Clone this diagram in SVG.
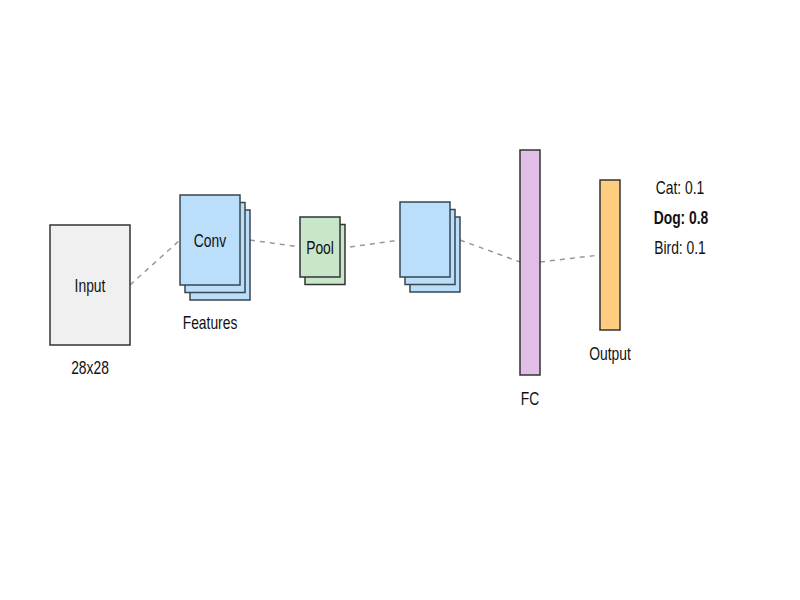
<svg xmlns="http://www.w3.org/2000/svg" width="800" height="600" viewBox="0 0 800 600">
<style>
.box{stroke:#333;stroke-width:1.5}
.in{fill:#f0f0f0}
.conv{fill:#bbdefb;stroke:#37474f}
.pool{fill:#c8e6c9}
.fc{fill:#e1bee7}
.out{fill:#ffcc80}
.lbl{font-family:"Liberation Sans",Arial,sans-serif;font-size:18px;fill:#111;text-anchor:middle}
.b{font-weight:bold}
.edge{stroke:#999;stroke-width:1.5;stroke-dasharray:5,5;fill:none}
</style>
<rect width="800" height="600" fill="#fff"/>
<g id="connectors">
<line class="edge" x1="130" y1="285" x2="180" y2="240"/>
<line class="edge" x1="250" y1="240" x2="300" y2="247"/>
<line class="edge" x1="350" y1="247" x2="400" y2="240"/>
<line class="edge" x1="460" y1="240" x2="520" y2="262"/>
<line class="edge" x1="540" y1="262" x2="600" y2="255"/>
</g>
<g id="input">
<rect class="box in" x="50" y="225" width="80" height="120"/>
<text class="lbl" transform="translate(90,292) scale(0.77,1)">Input</text>
<text class="lbl" transform="translate(90,374) scale(0.77,1)">28x28</text>
</g>
<g id="conv1">
<rect class="box conv" x="190" y="210" width="60" height="90"/>
<rect class="box conv" x="185" y="202.5" width="60" height="90"/>
<rect class="box conv" x="180" y="195" width="60" height="90"/>
<text class="lbl" transform="translate(210,247) scale(0.77,1)">Conv</text>
<text class="lbl" transform="translate(210,329) scale(0.77,1)">Features</text>
</g>
<g id="pool">
<rect class="box pool" x="305" y="224.5" width="40" height="60"/>
<rect class="box pool" x="300" y="217" width="40" height="60"/>
<text class="lbl" transform="translate(320,254) scale(0.77,1)">Pool</text>
</g>
<g id="conv2">
<rect class="box conv" x="410" y="217" width="50" height="75"/>
<rect class="box conv" x="405" y="209.5" width="50" height="75"/>
<rect class="box conv" x="400" y="202" width="50" height="75"/>
</g>
<g id="fc">
<rect class="box fc" x="520" y="150" width="20" height="225"/>
<text class="lbl" transform="translate(530,405) scale(0.77,1)">FC</text>
</g>
<g id="output">
<rect class="box out" x="600" y="180" width="20" height="150"/>
<text class="lbl" transform="translate(610,360) scale(0.77,1)">Output</text>
<text class="lbl" transform="translate(680,194) scale(0.77,1)">Cat: 0.1</text>
<text class="lbl b" transform="translate(681,224) scale(0.77,1)">Dog: 0.8</text>
<text class="lbl" transform="translate(680,254) scale(0.77,1)">Bird: 0.1</text>
</g>
</svg>
